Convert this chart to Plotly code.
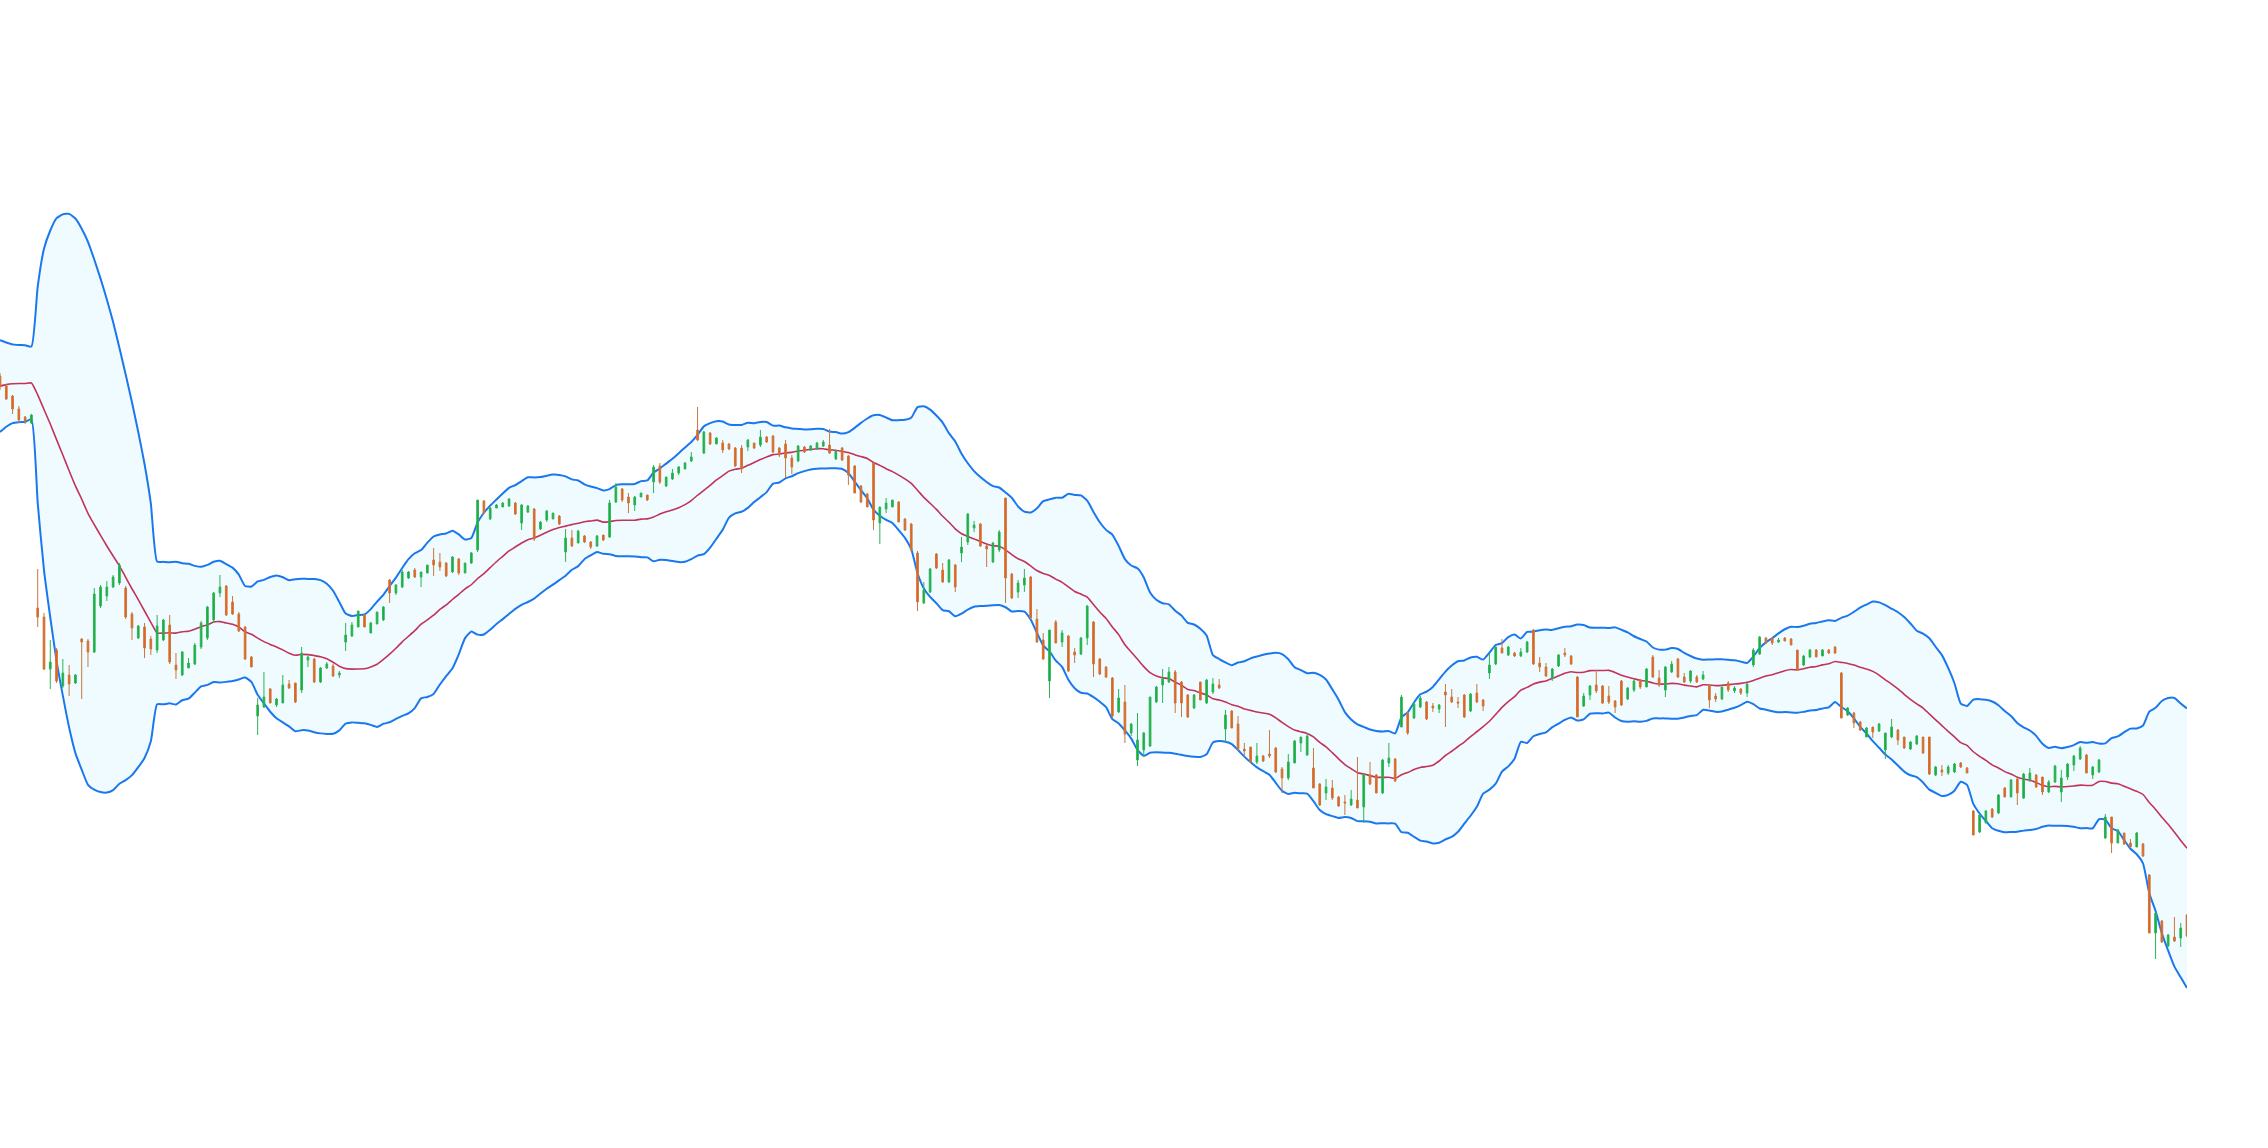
import plotly.graph_objects as go
import pandas as pd

# closes of the 19 sessions preceding the visible window (only feed the bands)
prior_close = [772, 774, 776, 777, 776, 820, 824, 828, 832, 834, 830, 828, 825, 830, 832, 828, 826, 824, 830]

open_ = [
    824, 814, 804, 791, 783, 777,
    592, 583, 531, 550, 514, 525, 517, 561, 559, 548,
    594, 604, 613, 617, 612, 586, 562, 573, 561, 550,
    560, 575, 535, 525, 532, 536,
    553, 562, 580, 607, 614, 598, 586, 573, 543, 484,
    493, 511, 495, 497, 516, 517, 510, 540, 541, 518,
    532, 534, 525, 558, 564, 573, 585, 567, 576, 580, 620, 607,
    613, 622, 630, 623, 627, 640, 638, 637, 628, 641, 627, 637,
    650, 699, 681, 692, 693, 694, 697, 677, 688, 691, 671, 680,
    681, 684, 648, 662, 657, 664, 658, 654,
    665, 663, 698, 711, 703, 695, 703, 705, 718, 734, 714, 721,
    727, 731, 739, 770, 747, 767, 756, 757, 756, 752, 752, 753,
    757, 755, 763, 764, 752, 756, 742, 739,
    753, 750, 751, 754, 755, 741, 752, 744, 734, 714, 706, 737,
    677, 691, 693, 698, 681, 676, 647, 597, 608, 646, 630, 618,
    635, 647, 658, 672, 676, 654, 638, 650,
    702, 626, 608, 615, 623, 581, 560, 519, 578, 558, 564, 548,
    546, 562, 578, 541, 533, 522, 488, 498, 467, 440, 450, 454,
    498, 515, 518, 528, 518, 505, 492, 518,
    497, 508, 515, 471, 489, 476, 451, 453, 438, 444, 446, 452,
    431, 422, 437, 457, 445, 432, 416, 407, 412, 403, 398, 395,
    400, 393, 425, 425, 407, 437, 441,
    473, 487, 482, 493, 498, 494, 491, 508, 503, 498, 505, 489,
    507, 500, 527, 536, 552, 545, 547, 544, 548, 570, 537, 533,
    522, 534, 547, 544, 523, 494, 505, 515,
    514, 504, 499, 519, 501, 510, 520, 513, 543, 522, 510, 528,
    541, 523, 519, 523, 521, 514, 504, 501, 517, 509, 511, 507,
    535, 546, 562, 562, 558, 562, 561, 550,
    535, 543, 550, 544, 550, 553, 527, 485, 487, 478, 463, 473,
    469, 450, 463, 470, 463, 451, 456, 463, 463, 425, 430, 427,
    428, 437, 432, 389, 368, 377, 391, 387,
    412, 403, 421, 402, 420, 425, 423, 408, 418, 408, 423, 435,
    441, 445, 425, 428, 362, 383, 357, 367, 357, 353, 356, 325,
    267, 279, 254, 263, 262, 285,
]

high = [
    827, 816, 805, 794, 784, 786,
    631, 587, 560, 552, 541, 535, 526, 562, 561, 612,
    615, 619, 625, 637, 614, 588, 575, 577, 564, 585,
    581, 585, 547, 549, 542, 557,
    579, 594, 608, 625, 615, 604, 588, 574, 544, 502,
    528, 512, 502, 525, 520, 517, 553, 544, 542, 533,
    538, 536, 529, 577, 578, 589, 586, 578, 588, 594, 621, 616,
    630, 629, 632, 628, 635, 652, 647, 638, 644, 642, 637, 648,
    700, 700, 693, 696, 698, 702, 698, 696, 695, 692, 679, 690,
    687, 685, 671, 670, 670, 665, 659, 665,
    665, 700, 717, 712, 707, 704, 707, 705, 735, 737, 723, 731,
    734, 738, 748, 793, 769, 768, 763, 760, 757, 753, 755, 761,
    757, 770, 764, 765, 753, 760, 745, 755,
    754, 755, 758, 760, 771, 750, 753, 745, 735, 715, 707, 738,
    693, 702, 700, 699, 682, 677, 649, 618, 632, 647, 637, 641,
    636, 663, 687, 679, 677, 655, 658, 670,
    702, 627, 620, 631, 624, 591, 567, 570, 580, 570, 565, 552,
    563, 595, 579, 542, 534, 523, 511, 515, 477, 487, 468, 503,
    514, 531, 533, 530, 519, 506, 506, 518,
    521, 522, 521, 490, 490, 484, 457, 453, 457, 445, 470, 453,
    433, 446, 460, 463, 467, 452, 417, 421, 420, 404, 405, 410,
    443, 426, 438, 426, 441, 457, 442,
    505, 488, 498, 504, 499, 497, 496, 516, 511, 503, 506, 507,
    516, 501, 547, 553, 561, 554, 548, 552, 559, 571, 543, 537,
    532, 546, 552, 545, 524, 507, 515, 530,
    515, 514, 500, 520, 513, 520, 521, 532, 545, 530, 534, 539,
    542, 527, 530, 525, 529, 515, 507, 513, 519, 514, 512, 517,
    552, 564, 563, 563, 562, 563, 562, 550,
    545, 551, 551, 551, 551, 554, 528, 493, 488, 479, 473, 473,
    477, 467, 481, 471, 463, 459, 465, 463, 463, 434, 435, 435,
    437, 438, 433, 390, 386, 390, 392, 406,
    413, 421, 422, 427, 432, 426, 423, 420, 435, 430, 437, 445,
    454, 446, 434, 441, 386, 383, 371, 367, 361, 368, 357, 326,
    287, 280, 266, 283, 277, 286,
]

low = [
    810, 800, 786, 777, 776, 776,
    573, 530, 511, 517, 512, 504, 516, 501, 533, 547,
    592, 599, 612, 615, 581, 560, 561, 542, 545, 547,
    559, 536, 521, 524, 532, 535,
    551, 560, 577, 603, 584, 585, 568, 540, 533, 465,
    492, 497, 493, 497, 511, 497, 507, 533, 517, 517,
    531, 523, 522, 549, 563, 573, 573, 567, 576, 579, 597, 605,
    612, 621, 622, 613, 627, 624, 629, 623, 627, 625, 627, 636,
    648, 686, 680, 692, 693, 693, 685, 670, 687, 659, 670, 678,
    681, 675, 638, 653, 657, 657, 651, 653,
    659, 662, 697, 698, 687, 689, 703, 699, 707, 716, 713, 720,
    725, 731, 738, 759, 746, 755, 756, 747, 750, 733, 727, 749,
    751, 753, 757, 747, 743, 722, 726, 738,
    747, 749, 750, 753, 746, 740, 739, 715, 707, 697, 693, 670,
    656, 687, 693, 678, 669, 649, 589, 596, 607, 631, 617, 617,
    608, 638, 655, 668, 653, 633, 637, 648,
    597, 601, 602, 608, 581, 557, 540, 502, 557, 553, 528, 537,
    545, 555, 523, 525, 522, 482, 487, 457, 464, 434, 443, 453,
    497, 497, 517, 487, 483, 482, 491, 500,
    496, 506, 511, 458, 472, 449, 443, 437, 436, 438, 442, 427,
    407, 420, 437, 448, 444, 412, 394, 400, 400, 393, 385, 394,
    392, 377, 415, 407, 406, 433, 418,
    473, 465, 481, 492, 480, 488, 487, 473, 497, 492, 482, 488,
    497, 489, 521, 535, 547, 544, 543, 543, 547, 535, 528, 523,
    519, 533, 543, 535, 483, 493, 500, 507,
    496, 496, 487, 494, 500, 508, 511, 513, 522, 513, 503, 527,
    522, 517, 517, 517, 520, 492, 498, 500, 508, 507, 505, 503,
    533, 545, 556, 555, 557, 559, 555, 530,
    534, 542, 543, 544, 546, 546, 482, 484, 472, 469, 463, 462,
    468, 441, 462, 455, 451, 450, 455, 446, 425, 424, 424, 425,
    427, 432, 427, 365, 367, 377, 382, 386,
    403, 403, 395, 401, 418, 412, 405, 407, 417, 398, 420, 429,
    440, 427, 421, 427, 361, 347, 357, 355, 353, 353, 343, 267,
    241, 257, 253, 258, 253, 263,
]

close = [
    813, 801, 791, 780, 779, 785,
    583, 531, 538, 519, 527, 516, 525, 558, 548, 606,
    613, 613, 623, 635, 583, 572, 574, 552, 551, 574,
    580, 538, 530, 548, 537, 555,
    577, 593, 607, 613, 585, 586, 569, 541, 533, 495,
    503, 497, 501, 515, 512, 498, 547, 543, 518, 532,
    536, 524, 527, 565, 575, 589, 573, 577, 588, 593, 607, 615,
    628, 628, 623, 628, 635, 635, 633, 624, 643, 627, 637, 647,
    700, 687, 692, 695, 697, 701, 686, 695, 694, 661, 678, 689,
    687, 676, 662, 654, 669, 658, 653, 664,
    660, 697, 713, 700, 697, 703, 707, 700, 733, 718, 723, 727,
    733, 737, 743, 760, 768, 756, 762, 750, 751, 734, 731, 760,
    752, 763, 758, 748, 745, 742, 733, 754,
    748, 754, 757, 758, 747, 749, 740, 725, 707, 698, 693, 680,
    693, 697, 700, 678, 670, 650, 598, 610, 631, 632, 618, 640,
    613, 653, 686, 675, 654, 651, 657, 668,
    622, 602, 617, 622, 582, 558, 541, 570, 557, 567, 529, 545,
    562, 594, 536, 526, 523, 484, 502, 466, 476, 460, 467, 503,
    513, 521, 528, 497, 497, 483, 505, 500,
    520, 516, 512, 485, 472, 451, 449, 438, 444, 439, 444, 428,
    422, 438, 459, 463, 464, 412, 395, 413, 402, 394, 397, 401,
    392, 426, 416, 407, 440, 442, 419,
    503, 467, 496, 502, 481, 492, 495, 505, 498, 497, 483, 506,
    498, 494, 535, 553, 547, 553, 544, 548, 558, 536, 533, 524,
    531, 545, 545, 536, 483, 504, 514, 509,
    497, 498, 493, 495, 512, 519, 513, 531, 523, 515, 533, 536,
    523, 518, 529, 518, 525, 500, 501, 513, 510, 512, 507, 516,
    550, 563, 557, 557, 560, 559, 555, 530,
    544, 550, 543, 550, 547, 547, 482, 492, 477, 470, 472, 468,
    476, 467, 473, 460, 452, 458, 464, 447, 426, 433, 428, 433,
    436, 433, 427, 365, 385, 389, 383, 405,
    403, 420, 407, 426, 427, 413, 408, 418, 434, 422, 436, 444,
    452, 427, 433, 440, 383, 357, 370, 356, 353, 367, 344, 267,
    287, 258, 265, 259, 272, 264,
]

n = len(close)
days = list(range(n))
prior_days = list(range(-len(prior_close), 0))

# Bollinger bands (20 periods, 2 standard deviations)
period, k_std = 20, 2
series = pd.Series(prior_close + close, dtype=float)
mid = series.rolling(period).mean()
sd = series.rolling(period).std(ddof=0)
upper = mid + k_std * sd
lower = mid - k_std * sd
all_days = prior_days + days

x_range = [0, 348]
y_range = [52, 1200]

fig = go.Figure()
fig.add_trace(go.Scatter(x=all_days, y=upper, mode="lines",
                         line=dict(color="#1a78ee", width=2, shape="spline", smoothing=0.5),
                         hoverinfo="skip", showlegend=False))
fig.add_trace(go.Scatter(x=all_days, y=lower, mode="lines", fill="tonexty",
                         fillcolor="#f0fbff",
                         line=dict(color="#1a78ee", width=2, shape="spline", smoothing=0.5),
                         hoverinfo="skip", showlegend=False))
fig.add_trace(go.Scatter(x=all_days, y=mid, mode="lines",
                         line=dict(color="#c2335a", width=1.6, shape="spline", smoothing=0.5),
                         hoverinfo="skip", showlegend=False))
# candles on an overlaying subplot so they are drawn above the band fill
fig.add_trace(go.Candlestick(
    x=days, open=open_, high=high, low=low, close=close,
    xaxis="x2", yaxis="y2",
    increasing=dict(fillcolor="#12ad3a", line=dict(color="#2db356", width=1)),
    decreasing=dict(fillcolor="#fb560c", line=dict(color="#c8773c", width=1)),
    whiskerwidth=0, showlegend=False,
))

fig.update_layout(
    width=2268, height=1148,
    margin=dict(l=0, r=81, t=0, b=0),
    paper_bgcolor="white", plot_bgcolor="white",
    boxgap=0.62,
    showlegend=False,
    xaxis=dict(range=x_range, visible=False, rangeslider=dict(visible=False), fixedrange=True),
    yaxis=dict(range=y_range, visible=False, fixedrange=True),
    xaxis2=dict(range=x_range, visible=False, overlaying="x", rangeslider=dict(visible=False), fixedrange=True),
    yaxis2=dict(range=y_range, visible=False, overlaying="y", fixedrange=True),
)

fig.write_html("out.html",
               config={"displayModeBar": False},
               post_script="document.body.style.margin='0px';document.body.style.overflow='hidden';")
